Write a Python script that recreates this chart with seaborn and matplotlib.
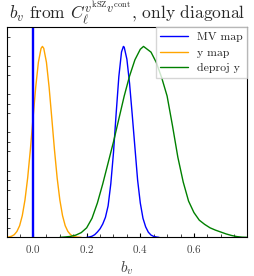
import matplotlib
matplotlib.use("Agg")
import matplotlib.pyplot as plt
from matplotlib.ticker import MultipleLocator, AutoMinorLocator
import seaborn as sns
import pandas as pd

# ---- data ----
mv_x = [0.20, 0.21, 0.22, 0.23, 0.24, 0.25, 0.26, 0.27, 0.28, 0.29, 0.30, 0.31,
        0.32, 0.33, 0.337, 0.34, 0.35, 0.36, 0.37, 0.38, 0.39, 0.40, 0.41, 0.42,
        0.43, 0.44, 0.45, 0.46, 0.47]
mv_y = [0.0, 0.002, 0.006, 0.014, 0.028, 0.045, 0.07, 0.105, 0.165, 0.28, 0.443, 0.649,
        0.842, 0.971, 1.0, 0.996, 0.933, 0.806, 0.641, 0.47, 0.30, 0.18, 0.10, 0.055,
        0.027, 0.012, 0.005, 0.002, 0.0]

ymap_x = [-0.10, -0.09, -0.08, -0.07, -0.06, -0.05, -0.04, -0.03, -0.02, -0.01,
          0.00, 0.01, 0.02, 0.03, 0.035, 0.04, 0.05, 0.06, 0.07, 0.08, 0.09, 0.10,
          0.11, 0.12, 0.13, 0.14, 0.15, 0.16, 0.17, 0.18]
ymap_y = [0.001, 0.002, 0.006, 0.014, 0.031, 0.061, 0.114, 0.196, 0.311, 0.458,
          0.624, 0.786, 0.917, 0.990, 1.0, 0.990, 0.917, 0.786, 0.624, 0.458, 0.311, 0.196,
          0.114, 0.061, 0.031, 0.014, 0.006, 0.002, 0.001, 0.0]

dep_x = [0.10, 0.12, 0.14, 0.16, 0.18, 0.20, 0.22, 0.24, 0.26, 0.28, 0.30, 0.32,
         0.34, 0.36, 0.38, 0.40, 0.412, 0.44, 0.46, 0.48, 0.50, 0.52, 0.54, 0.56,
         0.58, 0.60, 0.62, 0.64, 0.66, 0.68, 0.70, 0.72, 0.74, 0.76, 0.78, 0.80]
dep_y = [0.0, 0.002, 0.005, 0.012, 0.025, 0.05, 0.10, 0.18, 0.28, 0.39, 0.50, 0.62,
         0.74, 0.845, 0.93, 0.985, 1.0, 0.97, 0.915, 0.835, 0.74, 0.585, 0.42, 0.29,
         0.19, 0.13, 0.09, 0.068, 0.05, 0.038, 0.028, 0.018, 0.01, 0.004, 0.001, 0.0]

labels = ["MV map", "y map", "deproj y"]
colors = ["blue", "orange", "green"]
true_value = 0.0

df = pd.concat([
    pd.DataFrame({"b": mv_x, "p": mv_y, "s": labels[0]}),
    pd.DataFrame({"b": ymap_x, "p": ymap_y, "s": labels[1]}),
    pd.DataFrame({"b": dep_x, "p": dep_y, "s": labels[2]}),
])

sns.set_style("ticks")
plt.rcParams["font.family"] = "serif"
plt.rcParams["font.serif"] = ["cmr10", "DejaVu Serif"]
plt.rcParams["mathtext.fontset"] = "cm"
plt.rcParams["axes.formatter.use_mathtext"] = True

fig = plt.figure(figsize=(2.54, 2.76), dpi=100)
ax = fig.add_axes([0.0276, 0.140, 0.946, 0.761])

sns.lineplot(data=df, x="b", y="p", hue="s", hue_order=labels,
             palette=dict(zip(labels, colors)), sort=False, estimator=None,
             linewidth=1.0, ax=ax)
ax.axvline(true_value, color="blue", lw=1.7)

ax.set_xlim(-0.097, 0.799)
ax.set_ylim(0, 1.1)
ax.xaxis.set_major_locator(MultipleLocator(0.2))
ax.xaxis.set_minor_locator(AutoMinorLocator(4))
ax.yaxis.set_major_locator(MultipleLocator(0.2))
ax.yaxis.set_minor_locator(AutoMinorLocator(4))
ax.tick_params(axis="x", which="major", direction="in", length=3, width=0.8,
               labelsize=8, pad=4, colors="black", labelcolor="#444444")
ax.tick_params(axis="x", which="minor", direction="in", length=2, width=0.6)
ax.tick_params(axis="y", which="major", length=0, labelleft=False)
ax.tick_params(axis="y", which="minor", direction="in", length=2, width=0.6)
for sp in ax.spines.values():
    sp.set_linewidth(0.8)
    sp.set_color("black")

ax.set_xlabel(r"$b_v$", fontsize=11, labelpad=3, color="#444444")
ax.set_ylabel("")
ax.set_title(r"$b_v$ from $C_\ell^{v^{\rm kSZ} v^{\rm cont}}$, only diagonal",
             fontsize=12.5, pad=3)
ax.legend(loc="upper right", fontsize=8.5, frameon=True, fancybox=False,
          borderaxespad=0.0, handlelength=2.3, labelspacing=0.45)

fig.savefig("out.png", dpi=100)
